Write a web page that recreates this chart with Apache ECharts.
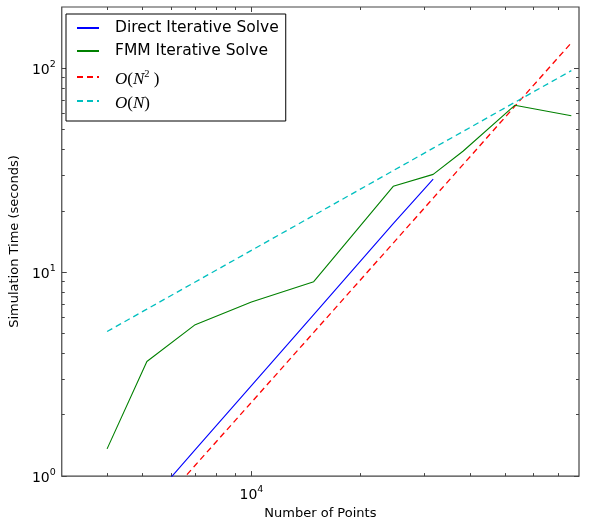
<!DOCTYPE html>
<html><head><meta charset="utf-8">
<script src="https://cdn.jsdelivr.net/npm/echarts@6/dist/echarts.min.js"></script>
<style>html,body{margin:0;padding:0;background:#fff}#c{width:590px;height:525px}</style>
</head><body><div id="c"></div>
<script>
// Data
const points = [4000, 5150, 7000, 10000, 14850, 24600, 31700, 38300, 53200, 76200];
const directPoints = [4000, 5150, 7000, 10000, 14850, 24600, 31700];
const directTime = [0.43, 0.72, 1.35, 2.78, 6.2, 17.3, 28.6];
const fmmTime = [1.36, 3.65, 5.53, 7.15, 8.99, 26.4, 30.2, 39.2, 65.9, 58.6];
const orderN2 = [0.37, 0.61, 1.13, 2.30, 5.07, 13.9, 23.1, 33.7, 65.1, 133.5];
const orderN = [5.12, 6.59, 8.96, 12.8, 19.0, 31.5, 40.6, 49.0, 68.1, 97.5];

const xMajorTicks = [10000];
const xMinorTicks = [4000, 5000, 6000, 7000, 8000, 9000, 20000, 30000, 40000, 50000, 60000, 70000];
const yMajorTicks = [1, 10, 100];
const yMinorTicks = [2, 3, 4, 5, 6, 7, 8, 9, 20, 30, 40, 50, 60, 70, 80, 90];
const xRange = [3000, 80000];
const yRange = [1, 200];

const seriesNames = ['Direct Iterative Solve', 'FMM Iterative Solve', 'O(N2)', 'O(N)'];

const pair = (xs, ys) => xs.map((x, i) => [x, ys[i]]);
const supLabel = v => '{b|10}{s|' + Math.round(Math.log10(v)) + '}';
const labelRich = {
  b: {fontFamily: 'DejaVu Sans', fontSize: 14, color: '#000', lineHeight: 18, verticalAlign: 'bottom'},
  s: {fontFamily: 'DejaVu Sans', fontSize: 9.5, color: '#000', lineHeight: 18, verticalAlign: 'top'}
};
const frame = '#444';

function logAxis(pos, range, ticks, len, labels, extra) {
  const a = {
    type: 'log', logBase: 10, position: pos, min: range[0], max: range[1],
    axisLine: {show: false},
    splitLine: {show: false},
    axisTick: {show: true, inside: true, length: len, customValues: ticks, lineStyle: {color: frame, width: 1}},
    axisLabel: labels ? {show: true, customValues: ticks, formatter: supLabel, rich: labelRich, margin: pos === 'bottom' ? 8 : 6}
                      : {show: false},
    gridIndex: 0
  };
  return Object.assign(a, extra || {});
}

const chart = echarts.init(document.getElementById('c'), null, {renderer: 'canvas'});
chart.setOption({
  animation: false,
  backgroundColor: '#fff',
  grid: {left: 57, right: 11, top: 7, bottom: 42, show: true, borderColor: frame, borderWidth: 1.2, backgroundColor: 'transparent'},
  xAxis: [
    logAxis('bottom', xRange, xMajorTicks, 5, true, {
      name: 'Number of Points', nameLocation: 'middle', nameGap: 25,
      nameTextStyle: {fontFamily: 'DejaVu Sans', fontSize: 13, color: '#000'}
    }),
    logAxis('bottom', xRange, xMinorTicks, 3, false),
    logAxis('top', xRange, xMajorTicks, 5, false),
    logAxis('top', xRange, xMinorTicks, 3, false)
  ],
  yAxis: [
    logAxis('left', yRange, yMajorTicks, 5, true, {
      name: 'Simulation Time (seconds)', nameLocation: 'middle', nameGap: 29,
      nameTextStyle: {fontFamily: 'DejaVu Sans', fontSize: 13, color: '#000'}
    }),
    logAxis('left', yRange, yMinorTicks, 3, false),
    logAxis('right', yRange, yMajorTicks, 5, false),
    logAxis('right', yRange, yMinorTicks, 3, false)
  ],
  legend: {
    orient: 'vertical', left: 66, top: 14,
    data: seriesNames,
    itemWidth: 22, itemHeight: 10, itemGap: 7,
    padding: [6, 7, 9, 10],
    backgroundColor: '#fff', borderColor: '#000', borderWidth: 1, borderRadius: 0,
    itemStyle: {opacity: 0, borderWidth: 0},
    textStyle: {
      fontFamily: 'DejaVu Sans', fontSize: 15.5, color: '#000',
      rich: {
        t: {fontFamily: 'DejaVu Sans', fontSize: 15.5, color: '#000', padding: [0, 0, 0, 11], lineHeight: 17},
        m: {fontFamily: 'Liberation Serif', fontStyle: 'italic', fontSize: 17, color: '#000', padding: [0, 0, 0, 11], lineHeight: 22, verticalAlign: 'bottom'},
        m2: {fontFamily: 'Liberation Serif', fontStyle: 'italic', fontSize: 17, color: '#000', lineHeight: 22, verticalAlign: 'bottom'},
        p: {fontFamily: 'Liberation Serif', fontSize: 17, color: '#000', lineHeight: 22, verticalAlign: 'bottom'},
        sup: {fontFamily: 'Liberation Serif', fontSize: 10.5, color: '#000', lineHeight: 16, verticalAlign: 'top', padding: [3, 0, 0, 0]}
      }
    },
    formatter: function (name) {
      if (name === 'O(N2)') return '{m|O}{p|(}{m2|N}{sup|2}{p| )}';
      if (name === 'O(N)') return '{m|O}{p|(}{m2|N}{p|)}';
      return '{t|' + name + '}';
    }
  },
  series: [
    {name: seriesNames[0], type: 'line', data: pair(directPoints, directTime), showSymbol: false, symbol: 'none',
     lineStyle: {color: '#0000ff', width: 1.1}, itemStyle: {color: '#0000ff'}, clip: true, z: 3},
    {name: seriesNames[1], type: 'line', data: pair(points, fmmTime), showSymbol: false, symbol: 'none',
     lineStyle: {color: '#008000', width: 1.1}, itemStyle: {color: '#008000'}, clip: true, z: 3},
    {name: seriesNames[2], type: 'line', data: pair(points, orderN2), showSymbol: false, symbol: 'none',
     lineStyle: {color: '#ff0000', width: 1.3, type: [6, 4]}, itemStyle: {color: '#ff0000'}, clip: true, z: 2},
    {name: seriesNames[3], type: 'line', data: pair(points, orderN), showSymbol: false, symbol: 'none',
     lineStyle: {color: '#00bfbf', width: 1.3, type: [6, 4]}, itemStyle: {color: '#00bfbf'}, clip: true, z: 2}
  ]
});
</script>
</body></html>
